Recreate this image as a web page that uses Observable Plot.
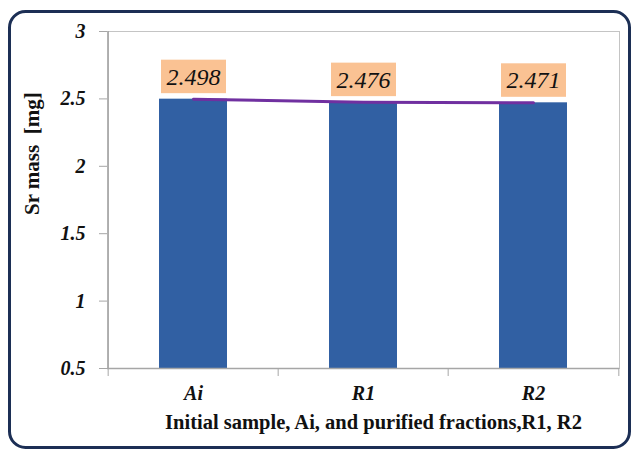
<!DOCTYPE html>
<html>
<head>
<meta charset="utf-8">
<script src="https://cdn.jsdelivr.net/npm/d3@7"></script>
<script src="https://cdn.jsdelivr.net/npm/@observablehq/plot@0.6"></script>
<style>
  html, body { margin: 0; padding: 0; background: #fff; }
  #chart svg { display: block; }
  #chart svg, #chart text { font-family: "Liberation Serif", serif !important; }
</style>
</head>
<body>
<div id="chart"></div>
<script>
// Sr mass in the initial sample and the two purified fractions
const samples = ["Ai", "R1", "R2"];
const srMass = [2.498, 2.476, 2.471];
const yTicks = [0.5, 1, 1.5, 2, 2.5, 3];
const yTitle = "Sr mass\u00a0\u00a0[mg]";
const xTitle = "Initial sample, Ai, and purified fractions,R1, R2";

const data = samples.map((name, i) => ({name, value: srMass[i]}));

const W = 632, H = 452;
const mL = 107, mR = 13, mT = 31, mB = 84;
const step = (W - mL - mR) / samples.length;

const serif = "Liberation Serif";
const axisGray = "#a6a6a6";
const ink = "#111";

const chart = Plot.plot({
  width: W,
  height: H,
  marginLeft: mL,
  marginRight: mR,
  marginTop: mT,
  marginBottom: mB,
  style: {fontFamily: serif, background: "transparent"},
  x: {domain: samples, paddingInner: 0.6, paddingOuter: 0.3, label: null},
  y: {domain: [0.5, 3], clamp: true, label: null},
  marks: [
    Plot.frame({stroke: "#c4c4c4"}),
    Plot.barY(data, {x: "name", y: "value", fill: "#3160a3"}),
    // value boxes above each bar
    Plot.barY(data, {x: "name", y1: "value", y2: "value", insetTop: -39, insetBottom: 5.5,
      insetLeft: 2, insetRight: 1, fill: "#fac293"}),
    Plot.text(data, {x: "name", y: "value", text: d => d.value.toFixed(3), dy: -22,
      lineAnchor: "middle", fontSize: 24, fontStyle: "italic", fontFamily: serif, fill: ink}),
    Plot.line(data, {x: "name", y: "value", stroke: "#7030a0", strokeWidth: 3}),
    // axis lines
    Plot.ruleX([samples[0]], {dx: -step / 2, stroke: axisGray, strokeWidth: 1.5}),
    Plot.ruleY([0.5], {stroke: axisGray, strokeWidth: 1.5}),
    Plot.axisY({ticks: yTicks, tickSize: 8, tickPadding: 14, stroke: axisGray,
      fontSize: 20, fontWeight: "bold", fontStyle: "italic", fontFamily: serif, fill: ink,
      tickFormat: d => String(d)}),
    Plot.axisX({tickSize: 8, text: null, dx: -step / 2, stroke: axisGray}),
    Plot.axisX({ticks: [samples[samples.length - 1]], tickSize: 8, text: null, dx: step / 2, stroke: axisGray}),
    Plot.axisX({tickSize: 0, tickPadding: 17, fontSize: 20, fontWeight: "bold", fontStyle: "italic",
      fontFamily: serif, fill: ink}),
    Plot.text([yTitle], {frameAnchor: "left", rotate: -90, dx: -75, dy: 15,
      fontSize: 21, fontWeight: "bold", fontFamily: serif, fill: ink}),
    Plot.text([xTitle], {frameAnchor: "bottom", dx: 10, dy: 60,
      fontSize: 20.5, fontWeight: "bold", fontFamily: serif, fill: ink})
  ]
});

// serif face set inline on every label
d3.select(chart).selectAll("text").style("font-family", "'Liberation Serif', serif");

// rounded outer border of the chart panel
d3.select(chart).insert("rect", ":first-child")
  .attr("x", 9.5).attr("y", 11.5)
  .attr("width", 620).attr("height", 436)
  .attr("rx", 16)
  .attr("fill", "#fff")
  .attr("stroke", "#1c2f55")
  .attr("stroke-width", 3);

document.getElementById("chart").append(chart);
</script>
</body>
</html>
